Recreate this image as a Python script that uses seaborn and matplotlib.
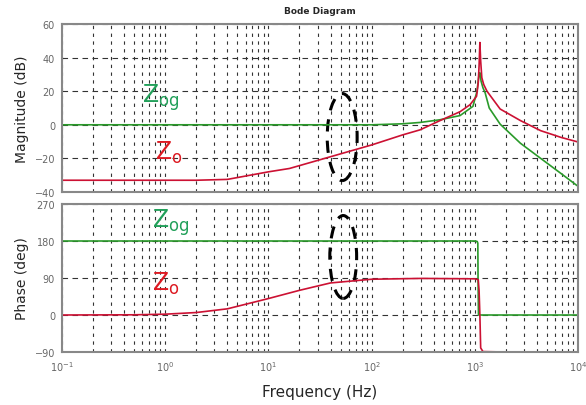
import numpy as np
import pandas as pd
import matplotlib
matplotlib.use('Agg')
import matplotlib.pyplot as plt
import seaborn as sns
from matplotlib.patches import Ellipse
from matplotlib.ticker import LogLocator, NullFormatter, FixedLocator

sns.set_style('white')
plt.rcParams['font.family'] = ['DejaVu Sans']

# magnitude of Zog (green) in dB
f_og_mag = [0.1, 1, 10, 100, 200, 295, 460, 720, 960, 1050, 1100, 1120, 1150,
            1200, 1260, 1380, 1760, 2770, 4350, 6850, 9700, 10000]
og_mag = [0, 0, 0, 0, 0.6, 1.4, 3, 5.5, 11, 20, 30, 31, 26,
          22, 19, 10, 0.4, -11, -20, -29, -36, -36.5]

# magnitude of Zo (red) in dB
f_o_mag = [0.1, 1, 2, 4, 10, 16, 40, 100, 200, 295, 460, 720, 900, 1040, 1080,
           1100, 1120, 1140, 1170, 1220, 1312, 1760, 2770, 4350, 6850, 9700, 10000]
o_mag = [-33, -33, -33, -32.5, -28, -26, -19, -12, -6, -3, 2.5, 7.8, 12, 17, 25,
         35, 49, 38, 28, 24, 20, 9.4, 2.5, -3.5, -7.5, -10, -10.3]

# phase of Zog (green) in deg
f_og_ph = [0.1, 1, 10, 100, 1000, 1050, 1070, 1075, 1085, 2000, 10000]
og_ph = [180, 180, 180, 180, 180, 179, 175, 90, 0, 0, 0]

# phase of Zo (red) in deg
f_o_ph = [0.1, 0.5, 1, 2, 4, 10, 20, 40, 100, 300, 1000, 1080, 1100, 1120,
          1140, 1200, 2000, 10000]
o_ph = [0, 0.5, 2, 6, 15, 40, 60, 78, 87, 89, 88, 86, 60, 0,
        -80, -89, -90, -90]

mag_ticks = [-40, -20, 0, 20, 40, 60]
ph_ticks = [-90, 0, 90, 180, 270]

green = '#2a9a2a'
red = '#cc1133'
txt_green = '#22a05a'
txt_red = '#dd1a22'

fig = plt.figure(figsize=(5.86, 4.06), dpi=100)
ax1 = fig.add_axes([62 / 586, 1 - 193 / 406, 516 / 586, 168 / 406])
ax2 = fig.add_axes([62 / 586, 1 - 353 / 406, 516 / 586, 148 / 406])

mag = pd.concat([
    pd.DataFrame({'f': f_og_mag, 'v': og_mag, 's': 'Zog'}),
    pd.DataFrame({'f': f_o_mag, 'v': o_mag, 's': 'Zo'}),
])
ph = pd.concat([
    pd.DataFrame({'f': f_og_ph, 'v': og_ph, 's': 'Zog'}),
    pd.DataFrame({'f': f_o_ph, 'v': o_ph, 's': 'Zo'}),
])
pal = {'Zog': green, 'Zo': red}

for ax, df, ticks in [(ax1, mag, mag_ticks), (ax2, ph, ph_ticks)]:
    ax.set_xscale('log')
    sns.lineplot(data=df, x='f', y='v', hue='s', palette=pal, estimator=None,
                 sort=False, linewidth=1.2, legend=False, ax=ax)
    ax.set_xlim(0.1, 10000)
    ax.set_ylim(ticks[0], ticks[-1])
    ax.yaxis.set_major_locator(FixedLocator(ticks))
    ax.xaxis.set_major_locator(LogLocator(base=10, numticks=10))
    ax.xaxis.set_minor_locator(LogLocator(base=10, subs=np.arange(2, 10), numticks=10))
    ax.xaxis.set_minor_formatter(NullFormatter())
    ax.grid(True, which='both', axis='x', color='#333333', linestyle=(0, (3, 4)), linewidth=0.8)
    ax.grid(True, which='major', axis='y', color='#333333', linestyle=(0, (5, 4)), linewidth=0.8)
    ax.tick_params(which='both', length=0, labelsize=7, labelcolor='#666666', pad=5)
    for sp in ax.spines.values():
        sp.set_color('#888888')
        sp.set_linewidth(1.5)
    ax.set_xlabel('')

ax1.tick_params(axis='x', labelbottom=False)
ax1.set_ylabel('Magnitude (dB)', fontsize=10, labelpad=4)
ax2.set_ylabel('Phase (deg)', fontsize=10, labelpad=4)
ax2.set_xlabel('Frequency (Hz)', fontsize=11, labelpad=8)
ax1.set_title('Bode Diagram', fontsize=6.5, fontweight='bold', pad=8)

# curve labels
ax1.text(0.155, 0.565, r'$\mathsf{Z}_{\mathsf{og}}$', color=txt_green, fontsize=17,
         transform=ax1.transAxes, va='center', ha='left')
ax1.text(0.18, 0.24, r'$\mathsf{Z}_{\mathsf{o}}$', color=txt_red, fontsize=17,
         transform=ax1.transAxes, va='center', ha='left')
ax2.text(0.174, 0.88, r'$\mathsf{Z}_{\mathsf{og}}$', color=txt_green, fontsize=17,
         transform=ax2.transAxes, va='center', ha='left')
ax2.text(0.174, 0.47, r'$\mathsf{Z}_{\mathsf{o}}$', color=txt_red, fontsize=17,
         transform=ax2.transAxes, va='center', ha='left')

# dashed ellipses
ax1.add_patch(Ellipse((0.543, 0.327), 0.058, 0.518, transform=ax1.transAxes,
                      fill=False, edgecolor='black', linewidth=2.2, linestyle=(0, (4, 3))))
ax2.add_patch(Ellipse((0.545, 0.642), 0.052, 0.56, transform=ax2.transAxes,
                      fill=False, edgecolor='black', linewidth=2.2, linestyle=(0, (4, 3))))

fig.savefig('out.png', dpi=100)
